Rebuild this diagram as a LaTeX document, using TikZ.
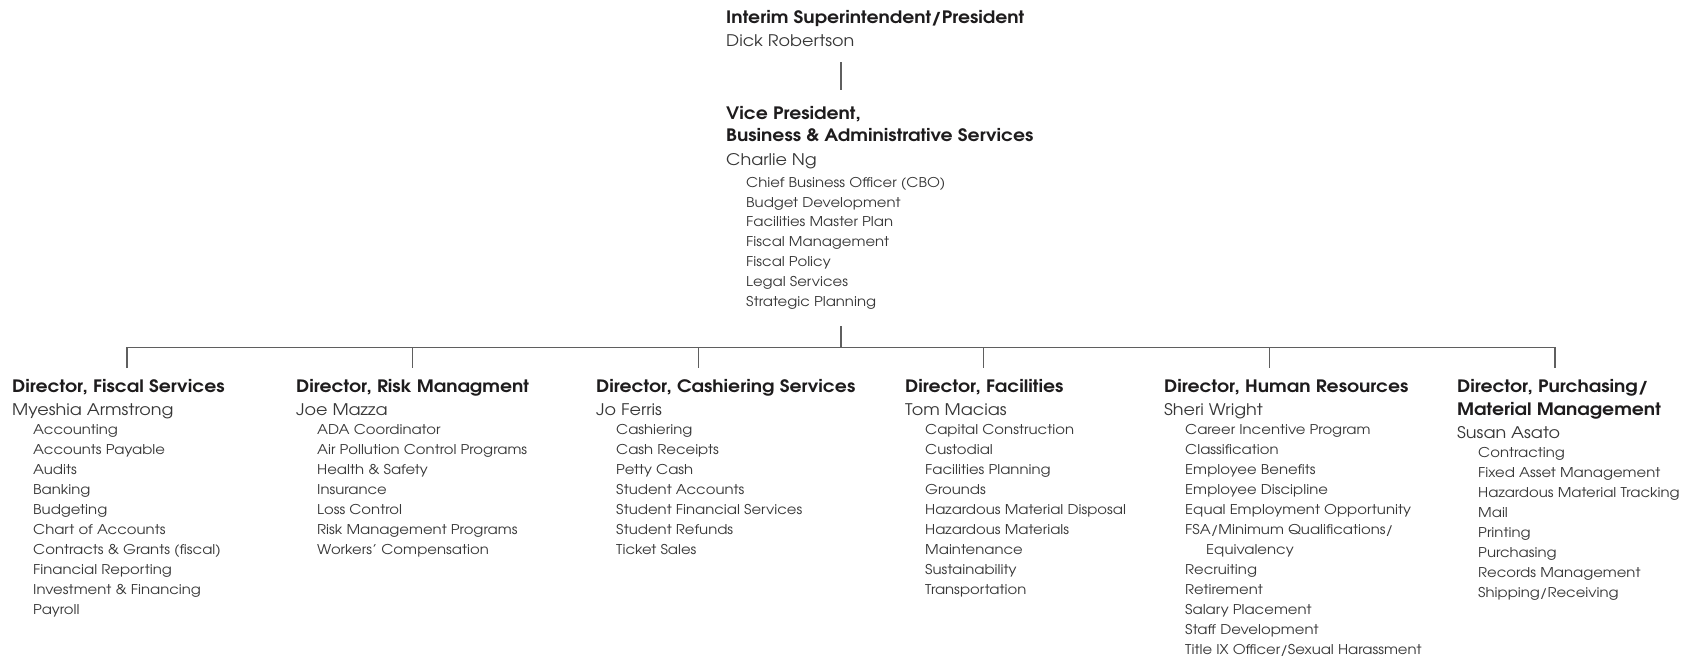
\documentclass[tikz,border=0pt]{standalone}
\usepackage{fontspec}
\setmainfont{texgyreadventor}[
    Extension=.otf,
    UprightFont=*-regular,
    BoldFont=*-bold,
    ItalicFont=*-italic,
    BoldItalicFont=*-bolditalic,
    FakeStretch=1.1
]
\usetikzlibrary{positioning}
\definecolor{inkcolor}{RGB}{30, 28, 29}
\definecolor{textcolor}{RGB}{55, 55, 55}
\definecolor{linecolor}{RGB}{95, 95, 95}

\begin{document}
\begin{tikzpicture}[
    x=1pt, y=-1pt,
    % Position title
    title/.style={
        anchor=base west,
        inner sep=0pt,
        text=inkcolor,
        font=\fontsize{17.1}{20}\selectfont\bfseries
    },
    % Person holding the position
    person/.style={
        anchor=base west,
        inner sep=0pt,
        text=textcolor,
        font=\fontsize{16}{19}\selectfont
    },
    % Area of responsibility
    duty/.style={
        anchor=base west,
        inner sep=0pt,
        text=textcolor,
        font=\fontsize{13.5}{16}\selectfont
    },
    % Org chart line
    orgline/.style={
        draw=linecolor,
        line width=1.2pt
    }
]
\useasboundingbox (0, 0) rectangle (1692, 660);

% ============================================
% TOP OF THE CHART
% ============================================

\node[title] (pres) at (726, 24) {Interim Superintendent/President};
\node[person] (presname) at (726, 46.7) {Dick Robertson};

\node[title] (vp) at (726, 120) {Vice President,};
\node[title] (vp2) at (726, 141.7) {Business \& Administrative Services};
\node[person] (vpname) at (726, 165.7) {Charlie Ng};
\foreach \t [count=\k] in {Chief Business Officer (CBO), Budget Development,
    Facilities Master Plan, Fiscal Management, Fiscal Policy,
    Legal Services, Strategic Planning}
    \node[duty] (vp-\k) at (746, 167.5+19.8*\k) {\t};

% ============================================
% CONNECTORS
% ============================================

\coordinate (spine) at (841, 347.7);
\foreach \i in {0,...,5} {
    \coordinate (tick\i) at (127+285.6*\i, 347.7);
    \coordinate (drop\i) at (127+285.6*\i, 368);
}

\draw[orgline, shorten <=15pt, shorten >=17pt] (presname.south -| spine) -- (vp.north -| spine);
\draw[orgline, shorten <=17pt] (vp-7.south -| spine) -- (spine);
\draw[orgline] (drop0) -- (tick0) -- (tick5) -- (drop5);
\foreach \i in {1,...,4}
    \draw[orgline] (tick\i) -- (drop\i);

% ============================================
% DIRECTORS
% ============================================

% Fiscal services
\node[title] (fisc) at (12, 392.7) {Director, Fiscal Services};
\node[person] (fiscname) at (12, 415.3) {Myeshia Armstrong};
\foreach \t [count=\k] in {Accounting, Accounts Payable, Audits, Banking,
    Budgeting, Chart of Accounts, Contracts \& Grants (fiscal),
    Financial Reporting, Investment \& Financing, Payroll}
    \node[duty] (fisc-\k) at (33, 414.5+20*\k) {\t};

% Risk management
\node[title] (risk) at (296, 392.7) {Director, Risk Managment};
\node[person] (riskname) at (296, 415.3) {Joe Mazza};
\foreach \t [count=\k] in {ADA Coordinator, Air Pollution Control Programs,
    Health \& Safety, Insurance, Loss Control, Risk Management Programs,
    Workers’ Compensation}
    \node[duty] (risk-\k) at (317, 414.5+20*\k) {\t};

% Cashiering services
\node[title] (cash) at (596, 392.7) {Director, Cashiering Services};
\node[person] (cashname) at (596, 415.3) {Jo Ferris};
\foreach \t [count=\k] in {Cashiering, Cash Receipts, Petty Cash,
    Student Accounts, Student Financial Services, Student Refunds,
    Ticket Sales}
    \node[duty] (cash-\k) at (616, 414.5+20*\k) {\t};

% Facilities
\node[title] (facil) at (905, 392.7) {Director, Facilities};
\node[person] (facilname) at (905, 415.3) {Tom Macias};
\foreach \t [count=\k] in {Capital Construction, Custodial,
    Facilities Planning, Grounds, Hazardous Material Disposal,
    Hazardous Materials, Maintenance, Sustainability, Transportation}
    \node[duty] (facil-\k) at (925, 414.5+20*\k) {\t};

% Human resources
\node[title] (hr) at (1164, 392.7) {Director, Human Resources};
\node[person] (hrname) at (1164, 415.3) {Sheri Wright};
\foreach \t [count=\k] in {Career Incentive Program, Classification,
    Employee Benefits, Employee Discipline, Equal Employment Opportunity,
    FSA/Minimum Qualifications/, \hspace{21pt}Equivalency, Recruiting,
    Retirement, Salary Placement, Staff Development,
    Title IX Officer/Sexual Harassment}
    \node[duty] (hr-\k) at (1185, 414.5+20*\k) {\t};

% Purchasing / material management
\node[title] (purch) at (1457, 392.7) {Director, Purchasing/};
\node[title] (purch2) at (1457, 415.4) {Material Management};
\node[person] (purchname) at (1457, 438) {Susan Asato};
\foreach \t [count=\k] in {Contracting, Fixed Asset Management,
    Hazardous Material Tracking, Mail, Printing, Purchasing,
    Records Management, Shipping/Receiving}
    \node[duty] (purch-\k) at (1478, 438+19.9*\k) {\t};

\end{tikzpicture}
\end{document}
